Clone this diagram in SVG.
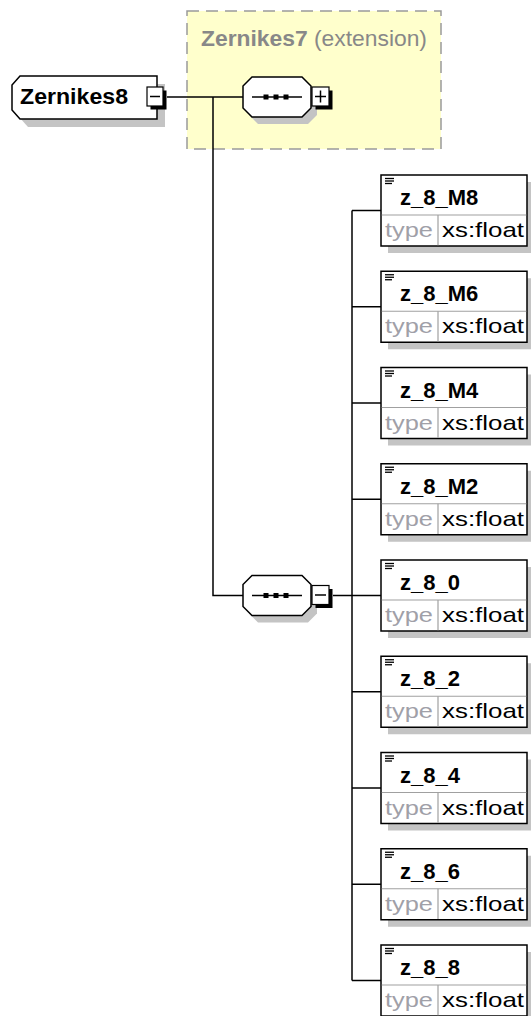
<svg xmlns="http://www.w3.org/2000/svg" width="531" height="1016" viewBox="0 0 531 1016">
<style>
.bg{fill:#ffffff}
.ext{fill:#FFFFCC;stroke:#9a9a9a;stroke-width:1.5;stroke-dasharray:12 7}
.shadow{fill:#c4c4c4;stroke:none}
.node{fill:#ffffff;stroke:#000000;stroke-width:1.5}
.btn{fill:#ffffff;stroke:#000000;stroke-width:1.2}
.btnsh{fill:#000000}
.sym{stroke:#000000;stroke-width:1.5;fill:none}
.conn{stroke:#000000;stroke-width:1.5;fill:none}
.div{stroke:#a0a0a0;stroke-width:1.2}
.name{font-family:"Liberation Sans",Arial,sans-serif;font-weight:bold;font-size:22px;fill:#000000}
.title{font-family:"Liberation Sans",Arial,sans-serif;font-size:22.5px;fill:#888888}
.lbl{font-family:"Liberation Sans",Arial,sans-serif;font-size:21px;fill:#a0a0a8}
.val{font-family:"Liberation Sans",Arial,sans-serif;font-size:21px;fill:#000000}
.ico{stroke:#000000;stroke-width:1.3}
</style>
<defs>
<g id="elem">
<rect class="shadow" x="7" y="7" width="146" height="71"/>
<rect class="node" x="0" y="0" width="146" height="71"/>
<line class="div" x1="0.75" y1="40" x2="145.25" y2="40"/>
<line class="div" x1="57" y1="40" x2="57" y2="70.25"/>
<line class="ico" x1="4" y1="3.5" x2="13" y2="3.5"/>
<line class="ico" x1="4" y1="6" x2="13" y2="6"/>
<line class="ico" x1="4" y1="8.5" x2="11" y2="8.5"/>
<text class="lbl" x="4" y="62" textLength="48" lengthAdjust="spacingAndGlyphs">type</text>
<text class="val" x="61" y="62" textLength="82" lengthAdjust="spacingAndGlyphs">xs:float</text>
</g>
<g id="seqshape">
<polygon class="shadow" points="15,7 65,7 74,16 74,38 65,47 15,47 6,38 6,16"/>
<polygon class="node" points="9,0 59,0 68,9 68,31 59,40 9,40 0,31 0,9"/>
<line class="sym" x1="9" y1="20" x2="59" y2="20"/>
<rect x="20.5" y="17.5" width="5" height="5" fill="#000"/>
<rect x="30.5" y="17.5" width="5" height="5" fill="#000"/>
<rect x="40.5" y="17.5" width="5" height="5" fill="#000"/>
</g>
</defs>
<rect class="bg" x="0" y="0" width="531" height="1016"/>

<g id="ext-Zernikes7">
<rect class="ext" x="187" y="11" width="254" height="138"/>
<text class="title" x="201" y="46" textLength="226" lengthAdjust="spacingAndGlyphs"><tspan font-weight="bold">Zernikes7</tspan> (extension)</text>
</g>

<g id="connectors">
<line class="conn" x1="167" y1="97" x2="243" y2="97"/>
<polyline class="conn" points="213,97 213,595.5 243,595.5"/>
<line class="conn" x1="333" y1="595.5" x2="381" y2="595.5"/>
<line class="conn" x1="352" y1="210.5" x2="352" y2="980.5"/>
<line class="conn" x1="352" y1="210.5" x2="381" y2="210.5"/>
<line class="conn" x1="352" y1="306.75" x2="381" y2="306.75"/>
<line class="conn" x1="352" y1="403" x2="381" y2="403"/>
<line class="conn" x1="352" y1="499.25" x2="381" y2="499.25"/>
<line class="conn" x1="352" y1="691.75" x2="381" y2="691.75"/>
<line class="conn" x1="352" y1="788" x2="381" y2="788"/>
<line class="conn" x1="352" y1="884.25" x2="381" y2="884.25"/>
<line class="conn" x1="352" y1="980.5" x2="381" y2="980.5"/>
</g>

<g id="Zernikes8">
<polygon class="shadow" points="28,84 165,84 165,127 28,127 20,118 20,93"/>
<polygon class="node" points="20,76 157,76 157,119 20,119 12,110 12,85"/>
<text class="name" x="20" y="104" textLength="108" lengthAdjust="spacingAndGlyphs">Zernikes8</text>
<rect class="btnsh" x="150.5" y="90.5" width="16" height="19"/>
<rect class="btn" x="147" y="87" width="16" height="19"/>
<line class="sym" x1="150" y1="96.5" x2="160" y2="96.5"/>
</g>

<g id="sequence1">
<use href="#seqshape" x="243" y="77"/>
<rect class="btnsh" x="315.5" y="90.5" width="17" height="19"/>
<rect class="btn" x="312" y="87" width="17" height="19"/>
<line class="sym" x1="315" y1="96.5" x2="326" y2="96.5"/>
<line class="sym" x1="320.5" y1="90.5" x2="320.5" y2="102.5"/>
</g>

<g id="sequence2">
<use href="#seqshape" x="243" y="575.5"/>
<rect class="btnsh" x="315.5" y="589" width="17" height="19"/>
<rect class="btn" x="312" y="585.5" width="17" height="19"/>
<line class="sym" x1="315" y1="595" x2="326" y2="595"/>
</g>

<g id="z_8_M8"><use href="#elem" x="381" y="175"/><text class="name" x="400" y="205">z_8_M8</text></g>
<g id="z_8_M6"><use href="#elem" x="381" y="271.25"/><text class="name" x="400" y="301.25">z_8_M6</text></g>
<g id="z_8_M4"><use href="#elem" x="381" y="367.5"/><text class="name" x="400" y="397.5">z_8_M4</text></g>
<g id="z_8_M2"><use href="#elem" x="381" y="463.75"/><text class="name" x="400" y="493.75">z_8_M2</text></g>
<g id="z_8_0"><use href="#elem" x="381" y="560"/><text class="name" x="400" y="590">z_8_0</text></g>
<g id="z_8_2"><use href="#elem" x="381" y="656.25"/><text class="name" x="400" y="686.25">z_8_2</text></g>
<g id="z_8_4"><use href="#elem" x="381" y="752.5"/><text class="name" x="400" y="782.5">z_8_4</text></g>
<g id="z_8_6"><use href="#elem" x="381" y="848.75"/><text class="name" x="400" y="878.75">z_8_6</text></g>
<g id="z_8_8"><use href="#elem" x="381" y="945"/><text class="name" x="400" y="975">z_8_8</text></g>
</svg>
